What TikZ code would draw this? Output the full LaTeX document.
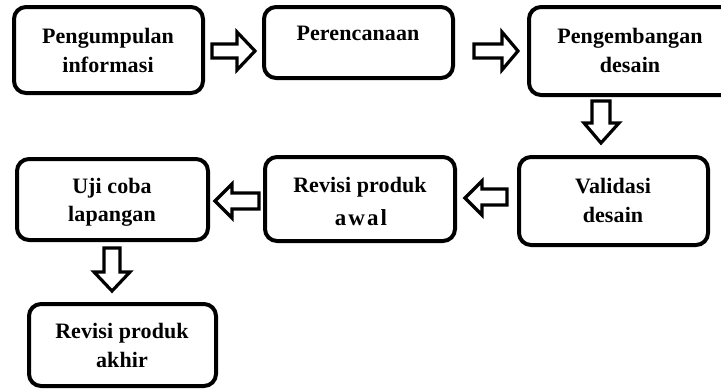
\documentclass[tikz,border=0pt]{standalone}
\usepackage{fontspec}
\setmainfont{Liberation Serif}
\newfontfamily\lblfont[LetterSpace=0.5]{Liberation Serif}
\newfontfamily\awalfont[LetterSpace=9]{Liberation Serif}
\begin{document}
\begin{tikzpicture}[x=1pt,y=-1pt,
  box/.style={draw=black, line width=4pt, rounded corners=12pt, fill=white},
  lbl/.style={anchor=base, font=\lblfont\bfseries\fontsize{22}{26}\selectfont, inner sep=0pt},
  blockarrow/.style={draw=black, line width=3.2pt, fill=white, line join=miter}]
\useasboundingbox (0,0) rectangle (721,389);
\begin{scope}
\clip (0,0) rectangle (721,389);
% boxes
\draw[box] (14,7) rectangle (203,93) node[pos=0.5] (b1) {};
\draw[box] (264,7) rectangle (453,78) node[pos=0.5] (b2) {};
\draw[box] (529,7) rectangle (735,95) node[pos=0.5] (b3) {};
\draw[box] (519,157) rectangle (708,245) node[pos=0.5] (b4) {};
\draw[box] (265,157) rectangle (455,241) node[pos=0.5] (b5) {};
\draw[box] (17,159) rectangle (208,240) node[pos=0.5] (b6) {};
\draw[box] (29,304) rectangle (216,386) node[pos=0.5] (b7) {};
\end{scope}
% labels
\node[lbl] (t1a) at (108,43) {Pengumpulan};
\node[lbl] (t1b) at (108,72) {informasi};
\node[lbl] (t2a) at (358,40) {Perencanaan};
\node[lbl] (t3a) at (630,43) {Pengembangan};
\node[lbl] (t3b) at (630,72) {desain};
\node[lbl] (t4a) at (613,193) {Validasi};
\node[lbl] (t4b) at (613,222) {desain};
\node[lbl] (t5a) at (360,192) {Revisi produk};
\node[anchor=base, inner sep=0pt, font=\awalfont\bfseries\fontsize{23}{27}\selectfont] (t5b) at (361,225) {awal};
\node[lbl] (t6a) at (112,193) {Uji coba};
\node[lbl] (t6b) at (112,221) {lapangan};
\node[lbl] (t7a) at (122,338) {Revisi produk};
\node[lbl] (t7b) at (122,367) {akhir};
% block arrows
\draw[blockarrow] (212,44) -- (237,44) -- (237,32) -- (255,51) -- (237,70) -- (237,58) -- (212,58) -- cycle;
\draw[blockarrow] (474,44) -- (502,44) -- (502,32) -- (518,51) -- (502,70) -- (502,58) -- (474,58) -- cycle;
\draw[blockarrow] (592,101) -- (592,123) -- (584,123) -- (601,143) -- (619,123) -- (610,123) -- (610,101) -- cycle;
\draw[blockarrow] (507,189) -- (482,189) -- (482,181) -- (465,198) -- (482,215) -- (482,205) -- (507,205) -- cycle;
\draw[blockarrow] (259,193) -- (232,193) -- (232,184) -- (215,201) -- (232,218) -- (232,209) -- (259,209) -- cycle;
\draw[blockarrow] (104,248) -- (104,272) -- (94,272) -- (112,291) -- (130,272) -- (120,272) -- (120,248) -- cycle;
\end{tikzpicture}
\end{document}
